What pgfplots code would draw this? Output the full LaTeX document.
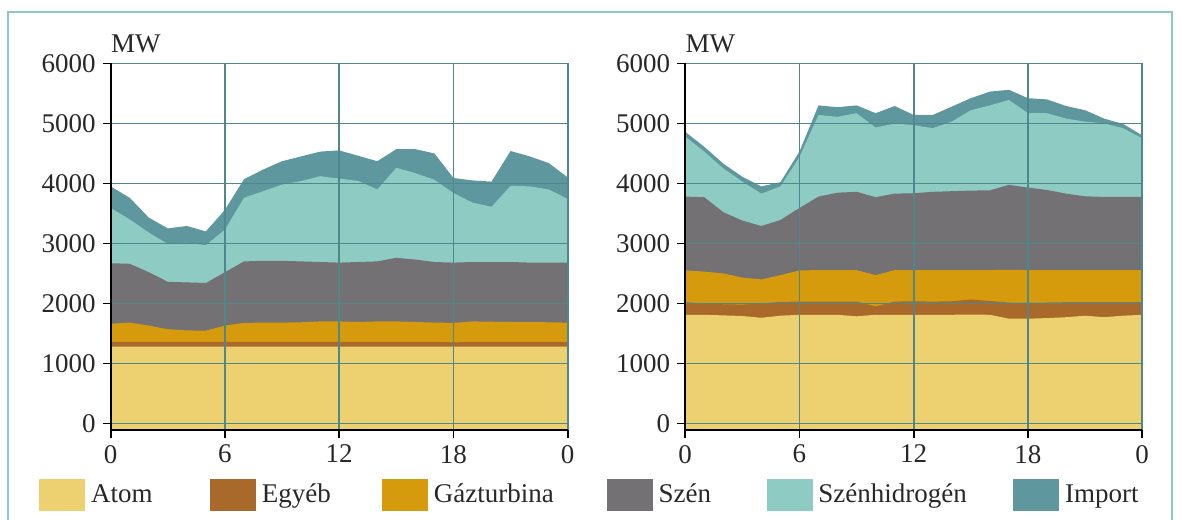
\documentclass[border=0pt]{standalone}
\usepackage{fontspec}
\setmainfont{Liberation Serif}
\usepackage{pgfplots}
\usepackage{pgfplotstable}
\pgfplotsset{compat=1.18}

\definecolor{atomc}{RGB}{237,208,112}
\definecolor{egyebc}{RGB}{168,105,43}
\definecolor{gazc}{RGB}{214,155,12}
\definecolor{szenc}{RGB}{115,113,116}
\definecolor{szhc}{RGB}{142,203,194}
\definecolor{impc}{RGB}{94,152,158}
\definecolor{gridc}{RGB}{78,135,140}
\definecolor{framec}{RGB}{140,200,196}
\definecolor{txtc}{RGB}{40,40,40}

% cumulative tops of each layer, MW, by hour
\pgfplotstableread{
h  atom egyeb gaz  szen szh  imp
0  1280 1360 1660 2670 3590 3950
1  1280 1360 1680 2660 3400 3760
2  1280 1360 1630 2520 3180 3430
3  1280 1360 1570 2360 2990 3250
4  1280 1360 1550 2350 3010 3290
5  1280 1360 1545 2340 2970 3200
6  1280 1360 1630 2520 3230 3560
7  1280 1360 1675 2700 3760 4070
8  1280 1360 1680 2710 3870 4230
9  1280 1360 1680 2710 3980 4370
10 1280 1360 1685 2700 4040 4450
11 1280 1360 1700 2690 4120 4530
12 1280 1360 1700 2680 4080 4550
13 1280 1360 1690 2690 4040 4460
14 1280 1360 1700 2700 3900 4370
15 1280 1360 1700 2760 4260 4570
16 1280 1360 1690 2730 4170 4570
17 1280 1360 1680 2690 4060 4500
18 1280 1350 1675 2680 3840 4090
19 1280 1360 1700 2690 3680 4050
20 1280 1360 1695 2690 3610 4030
21 1280 1360 1690 2690 3960 4540
22 1280 1360 1690 2680 3950 4450
23 1280 1360 1685 2680 3900 4340
24 1280 1360 1680 2680 3740 4100
}\tabA

\pgfplotstableread{
h  atom egyeb gaz  szen szh  imp
0  1810 2020 2550 3780 4780 4860
1  1810 2000 2530 3770 4530 4610
2  1800 1985 2500 3520 4250 4330
3  1790 1980 2430 3380 4030 4110
4  1760 2000 2400 3290 3830 3950
5  1795 2025 2470 3390 3950 4020
6  1810 2030 2550 3590 4440 4530
7  1810 2030 2555 3780 5140 5300
8  1810 2030 2555 3845 5110 5270
9  1785 2030 2555 3860 5170 5300
10 1810 1950 2470 3770 4930 5170
11 1810 2030 2555 3830 5000 5290
12 1810 2035 2555 3835 4970 5140
13 1810 2030 2555 3860 4920 5140
14 1810 2035 2555 3870 5030 5280
15 1815 2065 2555 3880 5220 5420
16 1810 2040 2555 3885 5300 5530
17 1745 2015 2560 3975 5390 5560
18 1745 2015 2555 3930 5170 5420
19 1755 2015 2555 3890 5170 5400
20 1770 2020 2555 3830 5080 5290
21 1795 2020 2555 3785 5030 5220
22 1770 2020 2555 3775 5000 5080
23 1795 2020 2555 3775 4920 4990
24 1810 2020 2555 3775 4750 4800
}\tabB

\newcommand{\bigfont}{\fontsize{13.5}{16}\selectfont}

\pgfplotsset{
  mwpanel/.style={
    scale only axis, width=228.5pt, height=183.3pt,
    xmin=0, xmax=24, ymin=-110, ymax=6000,
    axis lines=left, axis line style={-, black, line width=1.1pt},
    xtick={0,6,12,18,24}, xticklabels={0,6,12,18,0},
    ytick={0,1000,...,6000},
    grid=major, major grid style={gridc, line width=0.8pt},
    tick style={black, line width=0.8pt}, tick align=outside, major tick length=4pt,
    axis on top,
    /pgf/number format/1000 sep={}, /pgf/number format/assume math mode=true,
    tick label style={font=\bigfont, text=txtc},
  },
  layer/.style={fill=#1, draw=none, forget plot},
  sq/.style={legend image code/.code={\fill[#1] (0pt,-7.75pt) rectangle (22.5pt,7.75pt);}},
}

\begin{document}
\begin{tikzpicture}
\useasboundingbox (0,0) rectangle (590.5pt,-259.5pt);
\draw[framec, line width=1pt] (4pt,-300pt) -- (4pt,-6pt) -- (586pt,-6pt) -- (586pt,-300pt);

\begin{axis}[mwpanel, name=axA, at={(55.35pt,-215pt)}, anchor=south west,
  legend columns=6, legend cell align=left,
  legend style={at={(-0.1569,-0.1773)}, anchor=west, draw=none, fill=none,
    inner sep=0pt, font=\bigfont, text=txtc,
    nodes={inner sep=0pt},
    /tikz/every odd column/.style={column sep=3pt},
    /tikz/every even column/.style={column sep=0pt}}]
  \addlegendimage{sq=atomc}
  \addlegendentry{\makebox[59.5pt][l]{Atom}}
  \addlegendimage{sq=egyebc}
  \addlegendentry{\makebox[60pt][l]{Egyéb}}
  \addlegendimage{sq=gazc}
  \addlegendentry{\makebox[86.5pt][l]{Gázturbina}}
  \addlegendimage{sq=szenc}
  \addlegendentry{\makebox[54pt][l]{Szén}}
  \addlegendimage{sq=szhc}
  \addlegendentry{\makebox[97.5pt][l]{Szénhidrogén}}
  \addlegendimage{sq=impc}
  \addlegendentry{Import}
  \addplot[layer=impc]   table[x=h,y=imp]   {\tabA} -- (24,-300) -- (0,-300) -- cycle;
  \addplot[layer=szhc]   table[x=h,y=szh]   {\tabA} -- (24,-300) -- (0,-300) -- cycle;
  \addplot[layer=szenc]  table[x=h,y=szen]  {\tabA} -- (24,-300) -- (0,-300) -- cycle;
  \addplot[layer=gazc]   table[x=h,y=gaz]   {\tabA} -- (24,-300) -- (0,-300) -- cycle;
  \addplot[layer=egyebc] table[x=h,y=egyeb] {\tabA} -- (24,-300) -- (0,-300) -- cycle;
  \addplot[layer=atomc]  table[x=h,y=atom]  {\tabA} -- (24,-300) -- (0,-300) -- cycle;
\end{axis}

\begin{axis}[mwpanel, name=axB, at={(342.6pt,-215pt)}, anchor=south west]
  \addplot[layer=impc]   table[x=h,y=imp]   {\tabB} -- (24,-300) -- (0,-300) -- cycle;
  \addplot[layer=szhc]   table[x=h,y=szh]   {\tabB} -- (24,-300) -- (0,-300) -- cycle;
  \addplot[layer=szenc]  table[x=h,y=szen]  {\tabB} -- (24,-300) -- (0,-300) -- cycle;
  \addplot[layer=gazc]   table[x=h,y=gaz]   {\tabB} -- (24,-300) -- (0,-300) -- cycle;
  \addplot[layer=egyebc] table[x=h,y=egyeb] {\tabB} -- (24,-300) -- (0,-300) -- cycle;
  \addplot[layer=atomc]  table[x=h,y=atom]  {\tabB} -- (24,-300) -- (0,-300) -- cycle;
\end{axis}

\node[anchor=base west, inner sep=0pt, font=\bigfont, text=txtc] at ([yshift=5.5pt]axA.north west) {MW};
\node[anchor=base west, inner sep=0pt, font=\bigfont, text=txtc] at ([yshift=5.5pt]axB.north west) {MW};
\end{tikzpicture}
\end{document}
